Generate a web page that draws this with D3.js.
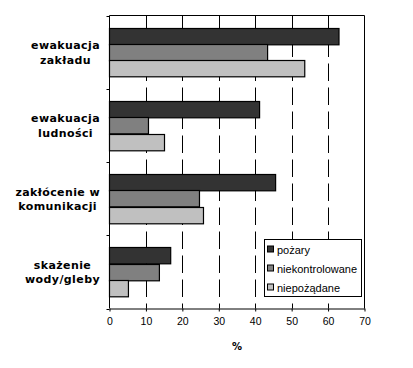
<!DOCTYPE html>
<html>
<head>
<meta charset="utf-8">
<script src="https://cdn.jsdelivr.net/npm/d3@7"></script>
<style>
  html, body { margin: 0; padding: 0; background: #fff; }
  svg { display: block; }
</style>
</head>
<body>
<svg id="chart" width="413" height="368"></svg>
<script>
const categories = [
  ["ewakuacja", "zakładu"],
  ["ewakuacja", "ludności"],
  ["zakłócenie w", "komunikacji"],
  ["skażenie", "wody/gleby"]
];
const seriesNames = ["pożary", "niekontrolowane", "niepożądane"];
const pozary = [63, 41.2, 45.6, 16.8];
const niekontrolowane = [43.4, 10.7, 24.7, 13.7];
const niepozadane = [53.6, 15.1, 25.8, 5.2];
const seriesColors = ["#333333", "#808080", "#c0c0c0"];
const xTicks = [0, 10, 20, 30, 40, 50, 60, 70];
const xTitle = "%";

const seriesValues = [pozary, niekontrolowane, niepozadane];

const svg = d3.select("#chart");
const L = 109.5, R = 364.5, T = 15.5, B = 308.5;

const x = d3.scaleLinear().domain([0, 70]).range([L, R]);
const yCat = d3.scaleBand().domain(d3.range(categories.length)).range([T, B]);
const bw = yCat.bandwidth();
const groupH = bw * 0.668;
const ySer = d3.scaleBand().domain(d3.range(seriesNames.length)).range([0, groupH]);

// gridlines
svg.append("g").selectAll("line").data(xTicks.filter(t => t > 0 && t < 70)).join("line")
  .attr("x1", d => Math.round(x(d)) + 0.5).attr("x2", d => Math.round(x(d)) + 0.5)
  .attr("y1", T).attr("y2", B)
  .attr("stroke", "#000").attr("stroke-width", 1)
  .attr("stroke-dasharray", "17.5,6.5");

// plot border top & right
svg.append("path")
  .attr("d", `M${L},${T}H${R}V${B}`)
  .attr("fill", "none").attr("stroke", "#000").attr("stroke-width", 1);

// bars
const bars = [];
categories.forEach((c, ci) => {
  seriesValues.forEach((vals, si) => {
    bars.push({ci, si, v: vals[ci]});
  });
});
svg.append("g").selectAll("rect").data(bars).join("rect")
  .attr("x", x(0))
  .attr("y", d => Math.round(yCat(d.ci) + (bw - groupH) / 2 + ySer(d.si)) + 0.5)
  .attr("width", d => x(d.v) - x(0))
  .attr("height", ySer.bandwidth())
  .attr("fill", d => seriesColors[d.si])
  .attr("stroke", "#000").attr("stroke-width", 1.2);

// x axis
const xAxis = d3.axisBottom(x).tickValues(xTicks).tickSize(3).tickSizeOuter(0);
const gx = svg.append("g").attr("transform", `translate(0,${B})`).call(xAxis);
gx.select(".domain").attr("stroke", "#000");
gx.selectAll(".tick line").attr("stroke", "#000");
gx.selectAll(".tick text")
  .attr("y", 9)
  .attr("font-family", "Liberation Sans, Arial, sans-serif")
  .attr("font-size", "10.5px").attr("fill", "#000");

// y axis (ticks at category boundaries)
const yBounds = d3.range(categories.length + 1).map(i => T + i * bw);
svg.append("line").attr("x1", L).attr("x2", L).attr("y1", T).attr("y2", B).attr("stroke", "#000");
svg.append("g").selectAll("line").data(yBounds).join("line")
  .attr("x1", L - 3).attr("x2", L)
  .attr("y1", d => Math.round(d) + 0.5).attr("y2", d => Math.round(d) + 0.5)
  .attr("stroke", "#000");

// category labels
categories.forEach((lines, ci) => {
  const c = yCat(ci) + bw / 2;
  const g = svg.append("g");
  const texts = lines.map((ln, li) => g.append("text")
    .attr("y", c - 3 + li * 14.5)
    .attr("text-anchor", "middle")
    .attr("font-family", "DejaVu Sans, Verdana, sans-serif")
    .attr("font-weight", "bold")
    .attr("font-size", "11px")
    .attr("letter-spacing", "0.4px")
    .attr("fill", "#000")
    .text(ln));
  const maxW = d3.max(texts, t => t.node().getComputedTextLength());
  texts.forEach(t => t.attr("x", 100 - maxW / 2));
});

// x title
svg.append("text")
  .attr("x", (L + R) / 2).attr("y", 350)
  .attr("text-anchor", "middle")
  .attr("font-family", "DejaVu Sans, Verdana, sans-serif")
  .attr("font-weight", "bold").attr("font-size", "10px")
  .text(xTitle);

// legend
const lg = svg.append("g");
lg.append("rect").attr("x", 264.5).attr("y", 239.5).attr("width", 97).attr("height", 57)
  .attr("fill", "#fff").attr("stroke", "#000");
seriesNames.forEach((name, i) => {
  const by = 253.5 + i * 19;
  lg.append("rect").attr("x", 267.5).attr("y", by - 7.5).attr("width", 6).attr("height", 6)
    .attr("fill", seriesColors[i]).attr("stroke", "#000");
  lg.append("text").attr("x", 277).attr("y", by)
    .attr("font-family", "Liberation Sans, Arial, sans-serif")
    .attr("font-size", "11px").attr("fill", "#000")
    .text(name);
});
</script>
</body>
</html>
